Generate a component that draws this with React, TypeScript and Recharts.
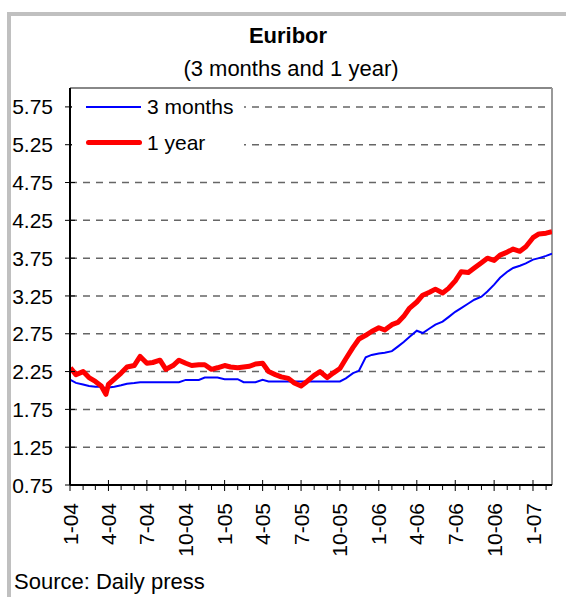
import React from 'react';
import { LineChart, Line, XAxis, YAxis, CartesianGrid, ReferenceLine } from 'recharts';

// semi-monthly readings, Jan 2004 - Feb 2007
const dates = [
    '2004-01-02', '2004-01-15', '2004-02-01', '2004-02-15', '2004-03-01', '2004-03-15', '2004-03-26',
    '2004-04-01', '2004-04-15', '2004-05-01', '2004-05-15', '2004-06-01', '2004-06-15',
    '2004-07-01', '2004-07-15', '2004-08-01', '2004-08-15', '2004-09-01', '2004-09-15',
    '2004-10-01', '2004-10-15', '2004-11-01', '2004-11-15', '2004-12-01', '2004-12-15',
    '2005-01-01', '2005-01-15', '2005-02-01', '2005-02-15', '2005-03-01', '2005-03-15',
    '2005-04-01', '2005-04-15', '2005-05-01', '2005-05-15', '2005-06-01', '2005-06-15',
    '2005-07-01', '2005-07-15', '2005-08-01', '2005-08-15', '2005-09-01', '2005-09-15',
    '2005-10-01', '2005-10-15', '2005-11-01', '2005-11-15', '2005-12-01', '2005-12-15',
    '2006-01-01', '2006-01-15', '2006-02-01', '2006-02-15', '2006-03-01', '2006-03-15',
    '2006-04-01', '2006-04-15', '2006-05-01', '2006-05-15', '2006-06-01', '2006-06-15',
    '2006-07-01', '2006-07-15', '2006-08-01', '2006-08-15', '2006-09-01', '2006-09-15',
    '2006-10-01', '2006-10-15', '2006-11-01', '2006-11-15', '2006-12-01', '2006-12-15',
    '2007-01-01', '2007-01-15', '2007-02-01', '2007-02-15',
];

const threeMonths = [
    2.14, 2.10, 2.08, 2.06, 2.05, 2.05, 2.03,
    2.04, 2.05, 2.07, 2.09, 2.10, 2.11,
    2.11, 2.11, 2.11, 2.11, 2.11, 2.11,
    2.14, 2.14, 2.14, 2.17, 2.17, 2.17,
    2.15, 2.15, 2.15, 2.11, 2.11, 2.11,
    2.14, 2.12, 2.12, 2.12, 2.12, 2.12,
    2.12, 2.12, 2.12, 2.12, 2.12, 2.12,
    2.12, 2.16, 2.23, 2.26, 2.44, 2.47,
    2.49, 2.50, 2.52, 2.58, 2.64, 2.71,
    2.79, 2.76, 2.82, 2.87, 2.91, 2.97,
    3.04, 3.09, 3.15, 3.20, 3.24, 3.31,
    3.40, 3.49, 3.57, 3.62, 3.65, 3.68,
    3.73, 3.75, 3.78, 3.81,
];

const oneYear = [
    2.30, 2.21, 2.25, 2.17, 2.12, 2.06, 1.95,
    2.08, 2.15, 2.23, 2.31, 2.33, 2.45,
    2.36, 2.37, 2.40, 2.28, 2.33, 2.40,
    2.36, 2.33, 2.34, 2.34, 2.28, 2.30,
    2.33, 2.31, 2.30, 2.31, 2.32, 2.35,
    2.36, 2.25, 2.21, 2.18, 2.16, 2.10,
    2.06, 2.12, 2.20, 2.25, 2.17, 2.23,
    2.29, 2.42, 2.57, 2.68, 2.73, 2.78,
    2.83, 2.80, 2.87, 2.90, 2.98, 3.09,
    3.17, 3.26, 3.30, 3.34, 3.29, 3.35,
    3.45, 3.57, 3.56, 3.62, 3.69, 3.75,
    3.72, 3.79, 3.83, 3.87, 3.84, 3.90,
    4.02, 4.07, 4.08, 4.10,
];

const majorTickDates = [
    '2004-01-01', '2004-04-01', '2004-07-01', '2004-10-01', '2005-01-01', '2005-04-01', '2005-07-01',
    '2005-10-01', '2006-01-01', '2006-04-01', '2006-07-01', '2006-10-01', '2007-01-01',
];
const majorTickLabels = ['1-04', '4-04', '7-04', '10-04', '1-05', '4-05', '7-05', '10-05', '1-06', '4-06', '7-06', '10-06', '1-07'];
const minorTickDates = [
    '2004-02-01', '2004-03-01', '2004-05-01', '2004-06-01', '2004-08-01', '2004-09-01', '2004-11-01', '2004-12-01',
    '2005-02-01', '2005-03-01', '2005-05-01', '2005-06-01', '2005-08-01', '2005-09-01', '2005-11-01', '2005-12-01',
    '2006-02-01', '2006-03-01', '2006-05-01', '2006-06-01', '2006-08-01', '2006-09-01', '2006-11-01', '2006-12-01',
    '2007-02-01',
];
const yTicks = [0.75, 1.25, 1.75, 2.25, 2.75, 3.25, 3.75, 4.25, 4.75, 5.25, 5.75];

const FONT = '"Liberation Sans", Arial, sans-serif';

const dayOf = (s: string) => {
    const [y, m, d] = s.split('-').map(Number);
    return (Date.UTC(y, m - 1, d) - Date.UTC(2004, 0, 1)) / 86400000;
};

const data = dates.map((d, i) => ({ day: dayOf(d), m3: threeMonths[i], y1: oneYear[i] }));
const xEnd = dayOf('2007-02-15');
const majorDays = majorTickDates.map(dayOf);
const allTicks = [...majorDays, ...minorTickDates.map(dayOf)].sort((a, b) => a - b);

const XTick = (props: any) => {
    const { x, y, payload } = props;
    const idx = majorDays.indexOf(payload.value);
    if (idx < 0) {
        return <line x1={x} x2={x} y1={y} y2={y + 5} stroke="#000" strokeWidth={1} />;
    }
    return (
        <g>
            <line x1={x} x2={x} y1={y - 5} y2={y + 6} stroke="#000" strokeWidth={1} />
            <text
                x={x}
                y={y + 18}
                transform={`rotate(-90, ${x}, ${y + 18})`}
                textAnchor="end"
                dy="0.36em"
                fontSize={21}
                fontFamily={FONT}
                fill="#000"
            >
                {majorTickLabels[idx]}
            </text>
        </g>
    );
};

const YTick = (props: any) => {
    const { x, y, payload } = props;
    return (
        <g>
            <line x1={x - 5} x2={x + 5} y1={y} y2={y} stroke="#000" strokeWidth={1} />
            <text x={x - 17} y={y} dy="0.36em" textAnchor="end" fontSize={21} fontFamily={FONT} fill="#000">
                {payload.value.toFixed(2)}
            </text>
        </g>
    );
};

export default function App() {
    return (
        <div style={{ position: 'relative', width: 566, height: 597, overflow: 'hidden', background: '#fff', fontFamily: FONT }}>
            <style>{'body{margin:0}'}</style>
            {/* outer frame */}
            <div style={{ position: 'absolute', left: 7, top: 12, width: 620, height: 640, border: '4px solid #c0c0c0', boxSizing: 'border-box' }} />

            <div style={{ position: 'absolute', left: 0, width: 576, top: 23, textAlign: 'center', fontSize: 22, fontWeight: 'bold', lineHeight: '26px' }}>
                Euribor
            </div>
            <div style={{ position: 'absolute', left: 0, width: 582, top: 56, textAlign: 'center', fontSize: 22, lineHeight: '26px' }}>
                (3 months and 1 year)
            </div>

            <div style={{ position: 'absolute', left: 0, top: 0 }}>
                <LineChart width={566} height={597} data={data} margin={{ top: 88, right: 14, bottom: 0, left: 0 }}>
                    <CartesianGrid vertical={false} stroke="#666" strokeWidth={1.5} strokeDasharray="7 6" />
                    <XAxis
                        dataKey="day"
                        type="number"
                        domain={[0, xEnd]}
                        ticks={allTicks}
                        interval={0}
                        tick={XTick}
                        tickSize={0}
                        tickMargin={0}
                        tickLine={false}
                        axisLine={{ stroke: '#000', strokeWidth: 2 }}
                        height={112}
                        allowDataOverflow
                    />
                    <YAxis
                        type="number"
                        domain={[0.75, 6]}
                        ticks={yTicks}
                        interval={0}
                        tick={YTick}
                        tickSize={0}
                        tickMargin={0}
                        tickLine={false}
                        axisLine={{ stroke: '#000', strokeWidth: 2 }}
                        width={70}
                        allowDataOverflow
                    />
                    <ReferenceLine y={6} stroke="#888" strokeWidth={2} />
                    <ReferenceLine x={xEnd} stroke="#999" strokeWidth={2} />
                    <Line dataKey="m3" stroke="#0000ff" strokeWidth={2} dot={false} isAnimationActive={false} />
                    <Line dataKey="y1" stroke="#ff0000" strokeWidth={5} strokeLinejoin="round" dot={false} isAnimationActive={false} />
                </LineChart>
            </div>

            {/* legend */}
            <div style={{ position: 'absolute', left: 72, top: 90, width: 172, height: 72, background: '#fff' }}>
                <div style={{ position: 'absolute', left: 14, top: 16, width: 55, height: 2, background: '#0000ff' }} />
                <div style={{ position: 'absolute', left: 75, top: 4, fontSize: 21, lineHeight: '26px' }}>3 months</div>
                <div style={{ position: 'absolute', left: 14, top: 50, width: 56, height: 5, borderRadius: 3, background: '#ff0000' }} />
                <div style={{ position: 'absolute', left: 75, top: 40, fontSize: 21, lineHeight: '26px' }}>1 year</div>
            </div>

            <div style={{ position: 'absolute', left: 14, top: 569, fontSize: 22, lineHeight: '26px' }}>Source: Daily press</div>
        </div>
    );
}
